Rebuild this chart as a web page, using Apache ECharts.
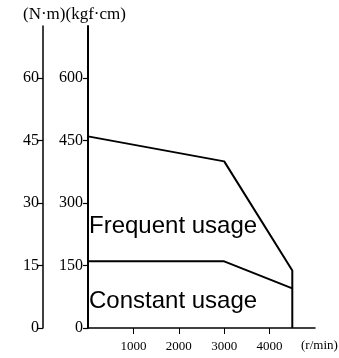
<!DOCTYPE html>
<html>
<head>
<meta charset="utf-8">
<script src="https://cdn.jsdelivr.net/npm/echarts@6/dist/echarts.min.js"></script>
<style>
html,body{margin:0;padding:0;background:#fff;}
#chart{width:339px;height:358px;}
</style>
</head>
<body>
<div id="chart"></div>
<script>
// data
const frequentRpm = [0, 3000, 4500, 4500];
const frequentTorque = [460, 400, 138, 0];
const constantRpm = [0, 3000, 4500];
const constantTorque = [160, 160, 95];
const kgfTicks = [0, 150, 300, 450, 600];
const nmTicks = [0, 15, 30, 45, 60];
const rpmTicks = [1000, 2000, 3000, 4000];
const titleText = '(N\u00B7m)(kgf\u00B7cm)';
const xUnit = '(r/min)';
const frequentLabel = 'Frequent usage';
const constantLabel = 'Constant usage';

const serif = '"Liberation Serif", "DejaVu Serif", serif';
const sans = '"Liberation Sans", Arial, sans-serif';

const chart = echarts.init(document.getElementById('chart'), null, {renderer: 'canvas'});
chart.setOption({
  animation: false,
  backgroundColor: '#fff',
  grid: {left: 88, right: 24, top: 26, bottom: 30, containLabel: false},
  xAxis: {
    type: 'value', min: 0, max: 5000,
    axisLine: {show: true, onZero: false, lineStyle: {color: '#000', width: 1.5}},
    axisTick: {show: true, length: 6, inside: false, customValues: rpmTicks, lineStyle: {color: '#000', width: 1}},
    axisLabel: {customValues: rpmTicks, formatter: v => String(v), margin: 12, color: '#000', fontFamily: serif, fontSize: 13},
    splitLine: {show: false}
  },
  yAxis: [
    {
      type: 'value', min: 0, max: 725, position: 'left', offset: 0,
      axisLine: {show: true, onZero: false, lineStyle: {color: '#000', width: 2}},
      axisTick: {show: true, length: 5, customValues: kgfTicks, lineStyle: {color: '#000', width: 1.2}},
      axisLabel: {customValues: kgfTicks, formatter: v => String(v), margin: 5, color: '#000', fontFamily: serif, fontSize: 16},
      splitLine: {show: false}
    },
    {
      type: 'value', min: 0, max: 72.5, position: 'left', offset: 45,
      axisLine: {show: true, onZero: false, lineStyle: {color: '#000', width: 1.5}},
      axisTick: {show: true, length: 5, customValues: nmTicks, lineStyle: {color: '#000', width: 1.2}},
      axisLabel: {customValues: nmTicks, formatter: v => String(v), margin: 4, color: '#000', fontFamily: serif, fontSize: 16},
      splitLine: {show: false}
    }
  ],
  series: [
    {
      name: frequentLabel, type: 'line', yAxisIndex: 0,
      data: frequentRpm.map((r, i) => [r, frequentTorque[i]]),
      symbol: 'none', lineStyle: {color: '#000', width: 2}
    },
    {
      name: constantLabel, type: 'line', yAxisIndex: 0,
      data: constantRpm.map((r, i) => [r, constantTorque[i]]),
      symbol: 'none', lineStyle: {color: '#000', width: 2}
    }
  ],
  graphic: [
    {type: 'text', left: 23, top: 6, style: {text: titleText, fill: '#000', font: '17px ' + serif}},
    {type: 'text', left: 301, top: 339, style: {text: xUnit, fill: '#000', font: '13px ' + serif}},
    {type: 'text', left: 89, top: 214, style: {text: frequentLabel, fill: '#000', font: '24px ' + sans}},
    {type: 'text', left: 89, top: 289, style: {text: constantLabel, fill: '#000', font: '24px ' + sans}}
  ]
});
</script>
</body>
</html>
